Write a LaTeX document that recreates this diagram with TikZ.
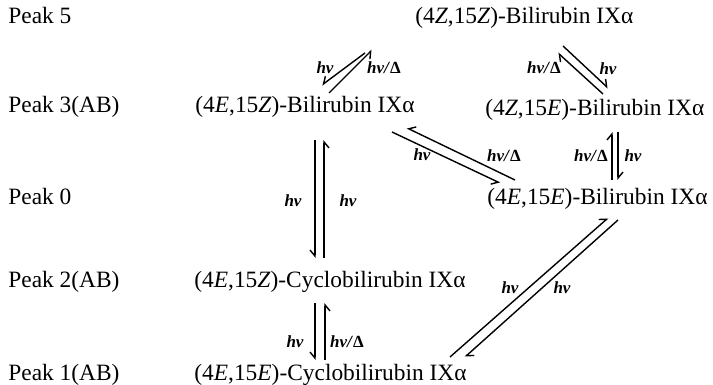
\documentclass[tikz,border=0pt]{standalone}
\usepackage{fontspec}
\setmainfont{Liberation Serif}
\usetikzlibrary{arrows.meta}
\newcommand{\hvd}{hv/\textup{Δ}}
\begin{document}
\begin{tikzpicture}[x=0.5pt,y=-0.5pt,
  txt/.style={font=\fontsize{11.7}{14}\selectfont, inner sep=0pt, anchor=base west},
  lab/.style={font=\fontsize{8.5}{10}\selectfont\bfseries\itshape, inner sep=0pt},
  hp/.style={line width=0.7pt, -{Straight Barb[harpoon,length=3pt,width=5pt]}},
  hps/.style={line width=0.7pt, -{Straight Barb[harpoon,swap,length=3pt,width=5pt]}}
]
\useasboundingbox (0,0) rectangle (713,385);

% row labels
\node[txt] (p5) at (8,24) {Peak 5};
\node[txt] (p3) at (8,113) {Peak 3(AB)};
\node[txt] (p0) at (8,205) {Peak 0};
\node[txt] (p2) at (8,287) {Peak 2(AB)};
\node[txt] (p1) at (8,380) {Peak 1(AB)};

% compounds
\node[txt] (zz) at (415,24) {(4\textit{Z},15\textit{Z})-Bilirubin IXα};
\node[txt] (ez) at (195,113) {(4\textit{E},15\textit{Z})-Bilirubin IXα};
\node[txt] (ze) at (485,116) {(4\textit{Z},15\textit{E})-Bilirubin IXα};
\node[txt] (ee) at (487,205) {(4\textit{E},15\textit{E})-Bilirubin IXα};
\node[txt] (cez) at (194,287) {(4\textit{E},15\textit{Z})-Cyclobilirubin IXα};
\node[txt] (cee) at (194,380) {(4\textit{E},15\textit{E})-Cyclobilirubin IXα};

% arrow end points
\coordinate (a1s) at (365,53);  \coordinate (a1e) at (322,85);
\coordinate (a2s) at (329,93);  \coordinate (a2e) at (372,50);
\coordinate (b1s) at (563,46);  \coordinate (b1e) at (608,88);
\coordinate (b2s) at (603,94);  \coordinate (b2e) at (558,53);
\coordinate (c1s) at (392,132); \coordinate (c1e) at (500,183);
\coordinate (c2s) at (515,180); \coordinate (c2e) at (407,128);
\coordinate (d1s) at (612,180); \coordinate (d1e) at (612,132);
\coordinate (d2s) at (618,132); \coordinate (d2e) at (618,180);
\coordinate (e1s) at (315,140); \coordinate (e1e) at (315,258);
\coordinate (e2s) at (324,258); \coordinate (e2e) at (324,140);
\coordinate (f1s) at (315,303); \coordinate (f1e) at (315,360);
\coordinate (f2s) at (325,360); \coordinate (f2e) at (325,303);
\coordinate (g1s) at (450,357); \coordinate (g1e) at (608,218);
\coordinate (g2s) at (618,220); \coordinate (g2e) at (465,357);

\draw[hps] (a1s) -- (a1e);
\draw[hps] (a2s) -- (a2e);
\draw[hp] (b1s) -- (b1e);
\draw[hp] (b2s) -- (b2e);
\draw[hps] (c1s) -- (c1e);
\draw[hps] (c2s) -- (c2e);
\draw[hp] (d1s) -- (d1e);
\draw[hp] (d2s) -- (d2e);
\draw[hps] (e1s) -- (e1e);
\draw[hps] (e2s) -- (e2e);
\draw[hps] (f1s) -- (f1e);
\draw[hps] (f2s) -- (f2e);
\draw[hp] (g1s) -- (g1e);
\draw[hp] (g2s) -- (g2e);

% labels
\node[lab] (l1) at (325,68) {hv};
\node[lab] (l2) at (384,68) {\hvd};
\node[lab] (l3) at (544,68) {\hvd};
\node[lab] (l4) at (608,69) {hv};
\node[lab] (l5) at (422,155) {hv};
\node[lab] (l6) at (504,156) {\hvd};
\node[lab] (l7) at (591,156) {\hvd};
\node[lab] (l8) at (633,156) {hv};
\node[lab] (l9) at (293,201) {hv};
\node[lab] (l10) at (348,201) {hv};
\node[lab] (l11) at (295,342) {hv};
\node[lab] (l12) at (347,342) {\hvd};
\node[lab] (l13) at (510,288) {hv};
\node[lab] (l14) at (562,288) {hv};
\end{tikzpicture}
\end{document}
